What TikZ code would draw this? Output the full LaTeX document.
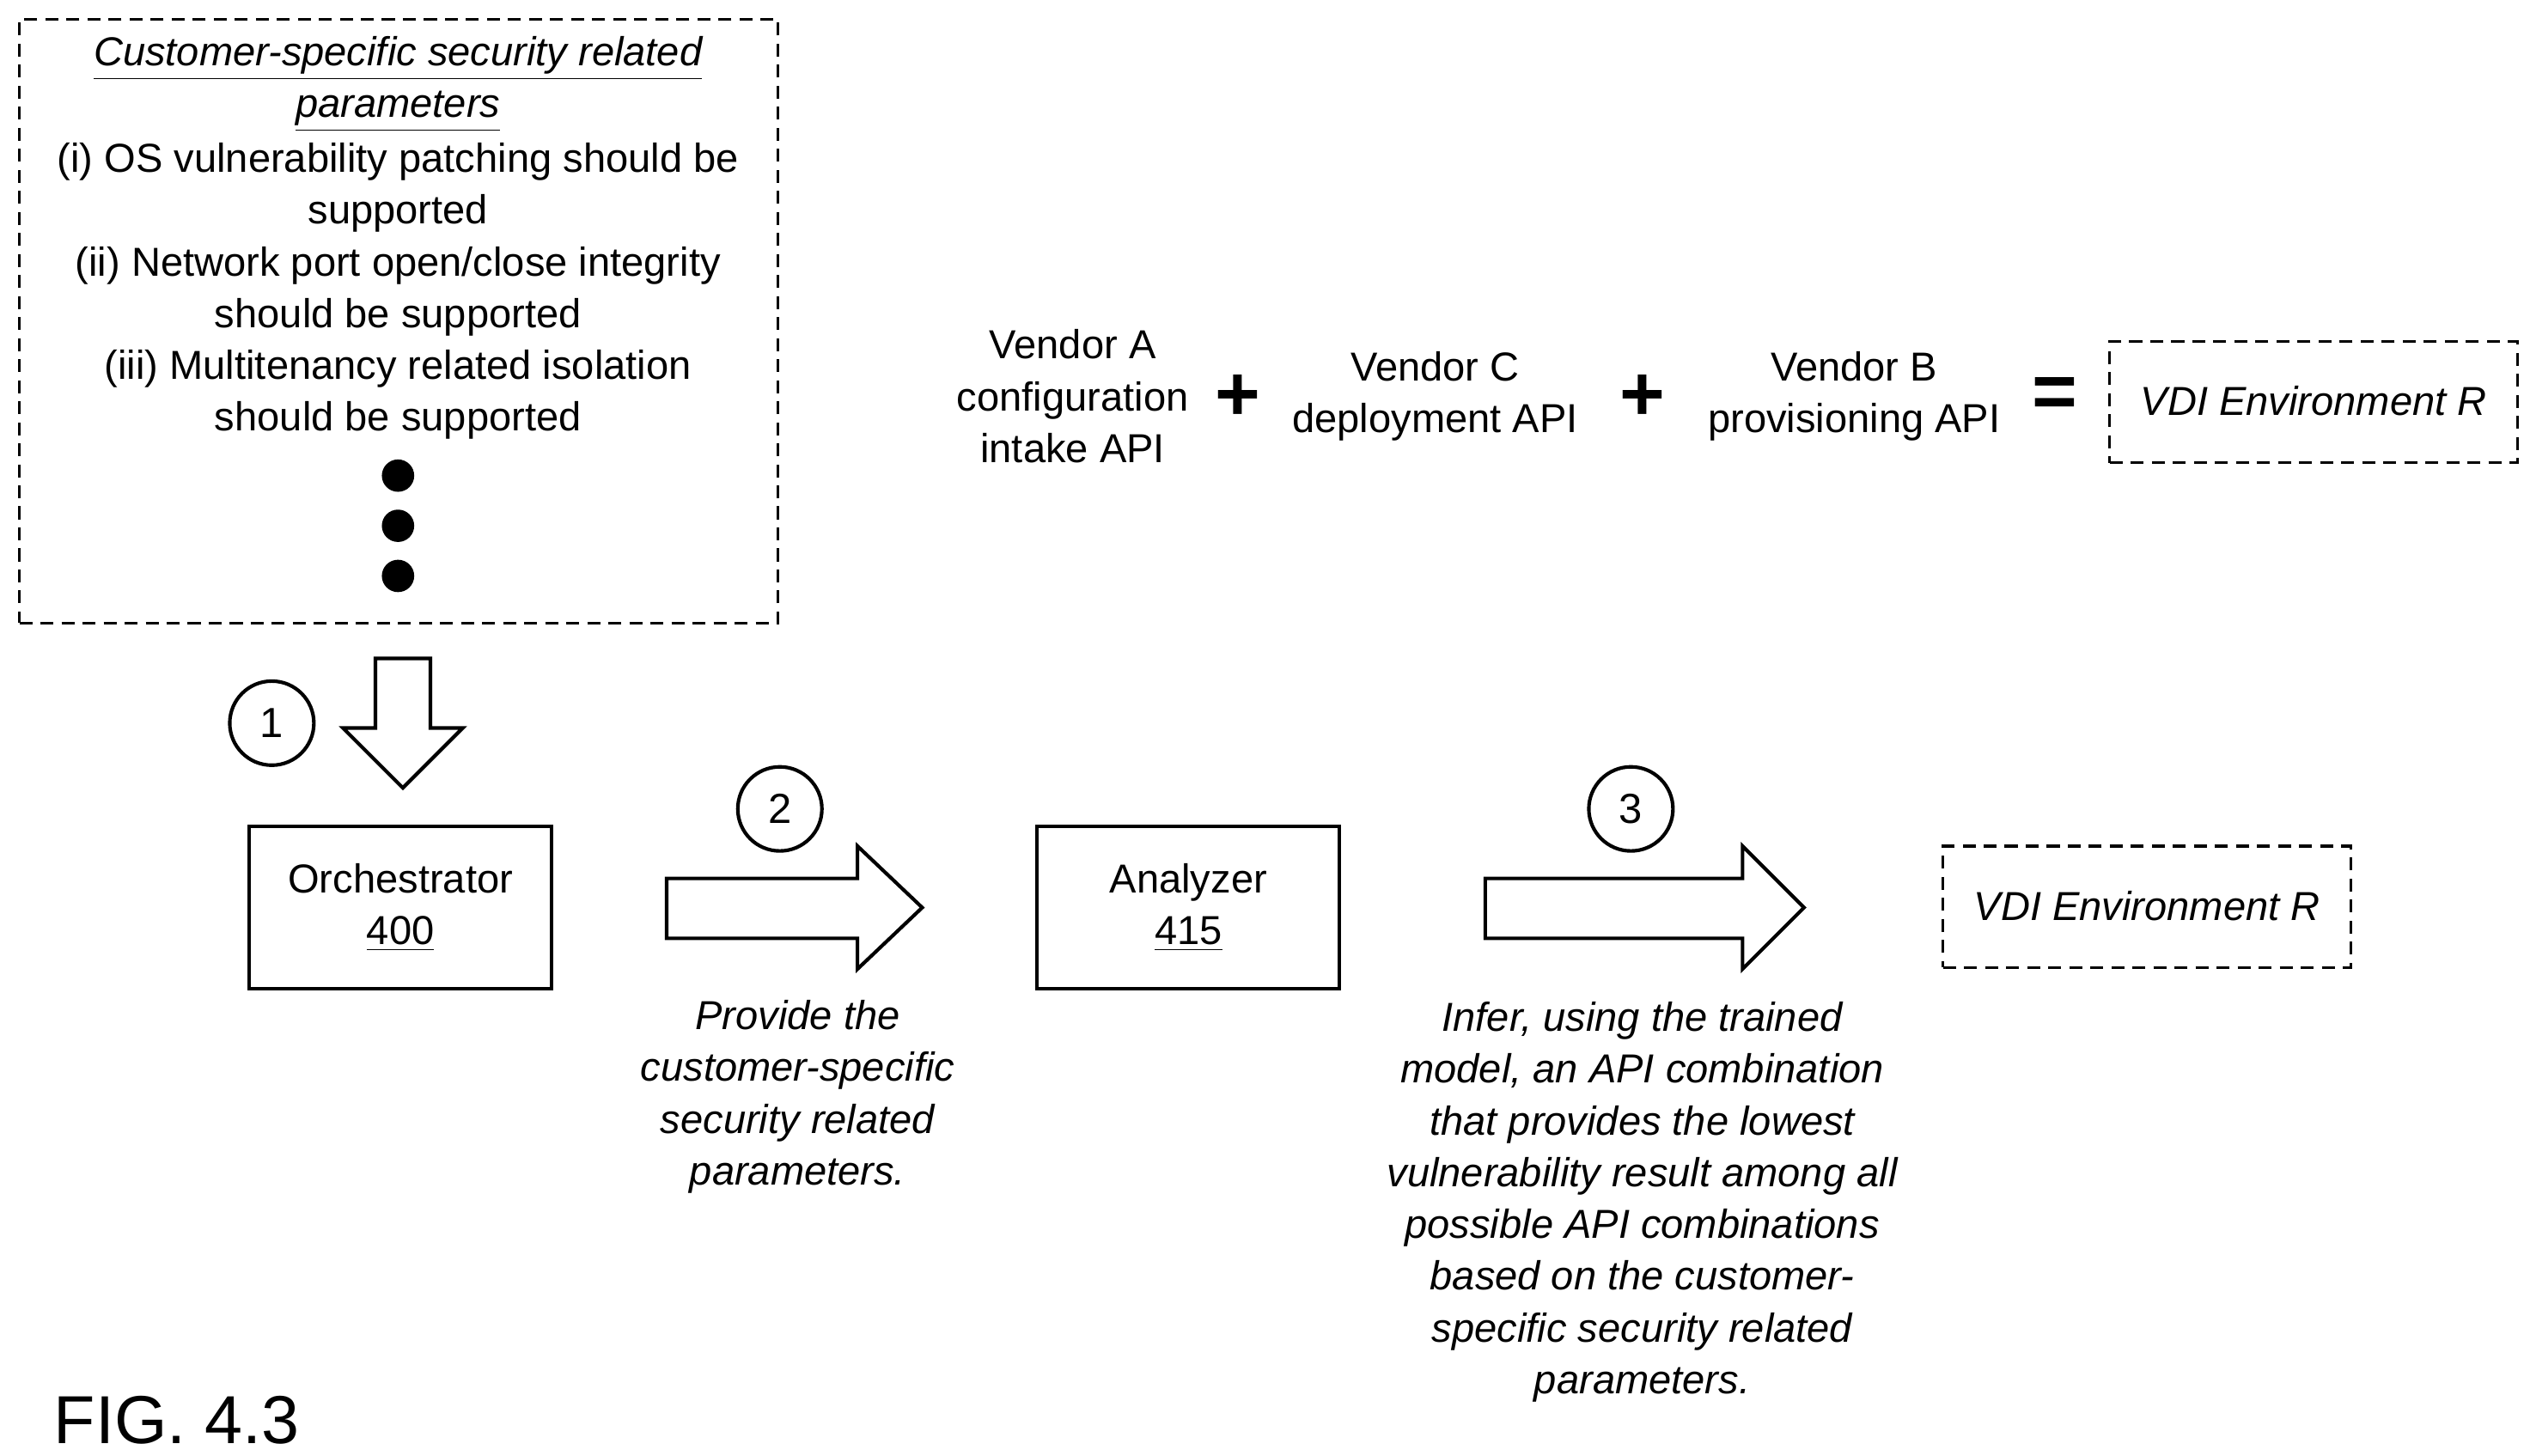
\documentclass[tikz,border=0pt]{standalone}
\usepackage{fontspec}
\setmainfont{Liberation Sans}
\begin{document}
\begin{tikzpicture}[x=0.5pt,y=-0.5pt,
  txt/.style={align=center,font=\fontsize{12.5}{16}\selectfont,inner sep=0pt},
  itx/.style={txt,font=\fontsize{12.5}{16}\selectfont\itshape},
  box/.style={draw,line width=1.1pt},
  dbox/.style={draw,line width=0.8pt,dash pattern=on 4pt off 2.5pt},
  harrow/.style={draw,line width=1.1pt,fill=white,line join=miter},
  num/.style={draw,circle,line width=1.1pt,minimum size=26pt,inner sep=0pt,font=\fontsize{13}{15}\selectfont}]
\useasboundingbox (0,0) rectangle (1560,900);
% top dashed box
\node[dbox,minimum width=234.5pt,minimum height=186.5pt] (params) at (246.5,198.5) {};
\node[itx] (ptitle) at (246,52) {\underline{Customer-specific security related}\\\underline{parameters}};
\node[txt] (plist) at (246,180) {(i) OS vulnerability patching should be\\supported\\(ii) Network port open/close integrity\\should be supported\\(iii) Multitenancy related isolation\\should be supported};
\foreach \y/\n in {294/d1,325/d2,356/d3}{\fill (246,\y) circle (5pt);}
% down arrow
\coordinate (da) at (249,407);
\draw[harrow] (232,407) -- (266,407) -- (266,450) -- (286,450) -- (249,487) -- (212,450) -- (232,450) -- cycle;
\node[num] (c1) at (168,447) {1};
% orchestrator
\node[box,minimum width=93.5pt,minimum height=50pt] (orch) at (247.5,561) {};
\node[txt] (orcht) at (247.5,561) {Orchestrator\\\underline{400}};
% arrow 2
\draw[harrow] (412,543) -- (530,543) -- (530,523) -- (570,561) -- (530,599) -- (530,580) -- (412,580) -- cycle;
\node[num] (c2) at (482,500) {2};
\node[itx] (cap2) at (493,678) {Provide the\\customer-specific\\security related\\parameters.};
% analyzer
\node[box,minimum width=93.5pt,minimum height=50pt] (an) at (734.5,561) {};
\node[txt] (ant) at (734.5,561) {Analyzer\\\underline{415}};
% arrow 3
\draw[harrow] (918,543) -- (1077,543) -- (1077,523) -- (1115,561) -- (1077,599) -- (1077,580) -- (918,580) -- cycle;
\node[num] (c3) at (1008,500) {3};
\node[itx] (cap3) at (1015,743) {Infer, using the trained\\model, an API combination\\that provides the lowest\\vulnerability result among all\\possible API combinations\\based on the customer-\\specific security related\\parameters.};
% lower VDI
\node[dbox,minimum width=126pt,minimum height=37.5pt] (vdi2) at (1327,560.5) {};
\node[itx] (vdi2t) at (1327,560) {VDI Environment R};
% top row
\node[txt] (va) at (663,245) {Vendor A\\configuration\\intake API};
\node[font=\fontsize{24}{24}\selectfont\bfseries] (p1) at (765,246) {+};
\node[txt] (vc) at (887,245) {Vendor C\\deployment API};
\node[font=\fontsize{24}{24}\selectfont\bfseries] (p2) at (1015,246) {+};
\node[txt] (vb) at (1146,245) {Vendor B\\provisioning API};
\node[font=\fontsize{24}{24}\selectfont\bfseries] (eq) at (1270,246) {=};
\node[dbox,minimum width=126pt,minimum height=37.5pt] (vdi1) at (1430,248.5) {};
\node[itx] (vdi1t) at (1430,248) {VDI Environment R};
\node[font=\fontsize{21}{24}\selectfont,anchor=west,inner sep=0pt] (fig) at (33,878) {FIG. 4.3};
\end{tikzpicture}
\end{document}
